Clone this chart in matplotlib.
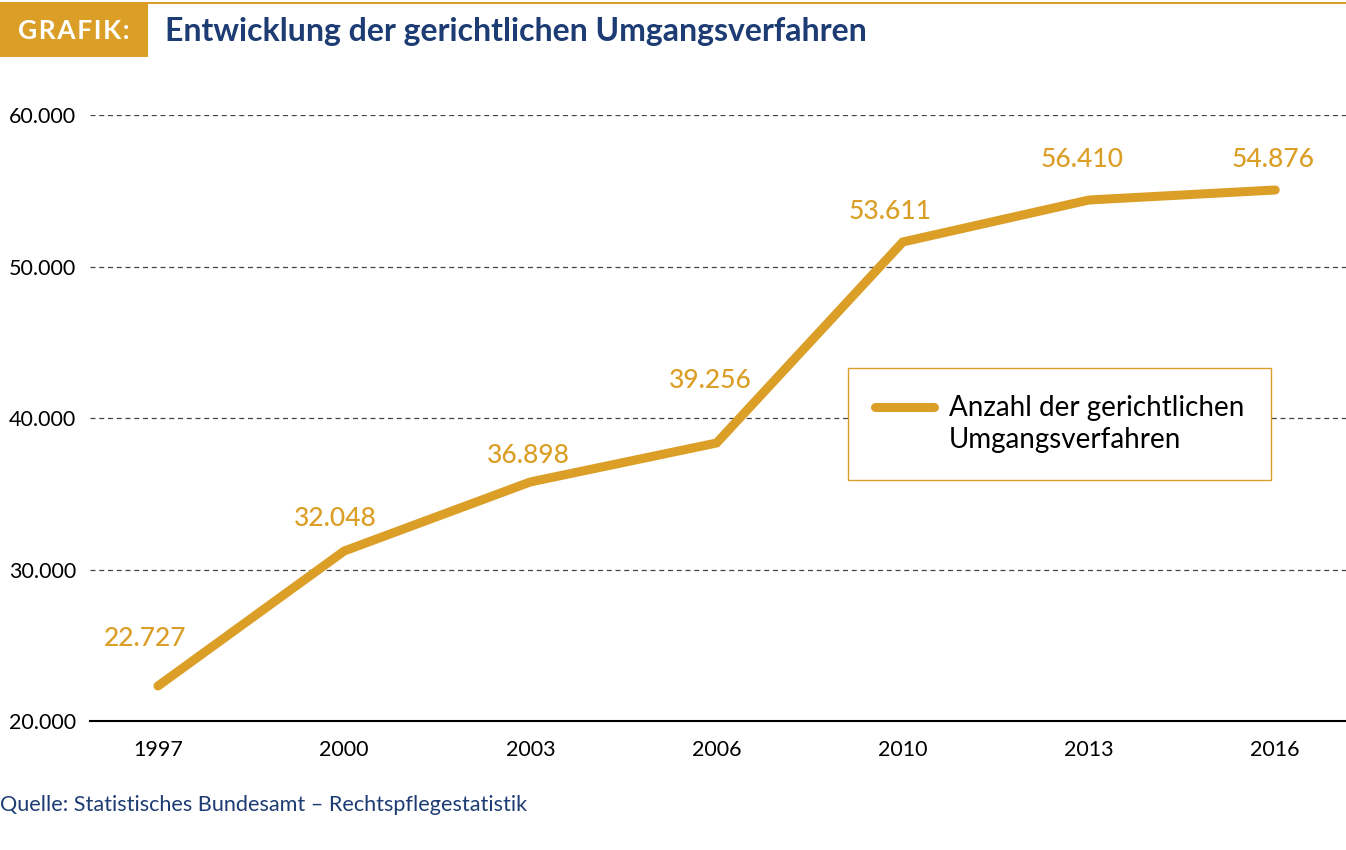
import numpy as np
import matplotlib.pyplot as plt
from matplotlib.patches import Rectangle
from matplotlib.lines import Line2D
from matplotlib.legend_handler import HandlerLine2D

years = ['1997', '2000', '2003', '2006', '2010', '2013', '2016']
# line positions as drawn in the source graphic
values = [22310, 31220, 35780, 38350, 51620, 54390, 55050]
# printed value labels
labels = ['22.727', '32.048', '36.898', '39.256', '53.611', '56.410', '54.876']
yticks = [20000, 30000, 40000, 50000, 60000]
ytick_labels = ['20.000', '30.000', '40.000', '50.000', '60.000']

gold = '#DB9F27'
navy = '#1D3C73'

plt.rcParams['font.family'] = ['Lato', 'DejaVu Sans']


class FirstLineHandler(HandlerLine2D):
    # put the legend line next to the first line of a two-line label
    def create_artists(self, legend, orig_handle, xdescent, ydescent, width,
                       height, fontsize, trans):
        arts = super().create_artists(legend, orig_handle, xdescent, ydescent,
                                      width, height, fontsize, trans)
        for a in arts:
            a.set_ydata(np.asarray(a.get_ydata()) + 0.65 * fontsize)
        return arts


fig = plt.figure(figsize=(13.46, 8.5), dpi=100)
ax = fig.add_axes([90 / 1346, 1 - 721 / 850, 1 - 90 / 1346, (721 - 115) / 850])

x = list(range(len(years)))
line, = ax.plot(x, values, color=gold, lw=6.5, solid_capstyle='round',
                solid_joinstyle='miter',
                label='Anzahl der gerichtlichen\nUmgangsverfahren', zorder=3)

# label offsets in pixels
offsets = [(-13, 48), (-9, 33), (-2, 26), (-6, 62), (-13, 30), (-7, 40), (-2, 30)]
for xi, v, lab, off in zip(x, values, labels, offsets):
    ax.annotate(lab, (xi, v), xytext=off, textcoords='offset pixels',
                ha='center', va='center', fontsize=19, fontweight='medium', color=gold)

ax.set_xlim(-0.365, 6.38)
ax.set_ylim(20000, 60000)
ax.set_xticks(x)
ax.set_xticklabels(years)
ax.set_yticks(yticks)
ax.set_yticklabels(ytick_labels)
ax.tick_params(axis='both', length=0, labelsize=15.5, colors='black')
ax.tick_params(axis='y', pad=10)
ax.tick_params(axis='x', pad=14)
for side in ['top', 'right', 'left']:
    ax.spines[side].set_visible(False)
ax.spines['bottom'].set_color('black')
ax.spines['bottom'].set_linewidth(1.5)
ax.yaxis.grid(True, linestyle=(0, (4, 3)), color='#444444', linewidth=0.9)
ax.set_axisbelow(True)

leg = ax.legend(loc='upper left', bbox_to_anchor=(0.6035, 0.5825), borderaxespad=0,
                fontsize=20, frameon=True, fancybox=False, handlelength=2.12,
                handletextpad=0.54, borderpad=0.97,
                handler_map={line: FirstLineHandler()})
leg.get_frame().set_edgecolor(gold)
leg.get_frame().set_linewidth(1.0)
leg.get_frame().set_alpha(1)
for t in leg.get_texts():
    t.set_linespacing(1.3)

# header
fig.add_artist(Line2D([0, 1], [1 - 2.5 / 850, 1 - 2.5 / 850], color=gold, lw=1.5,
                      transform=fig.transFigure))
fig.add_artist(Rectangle((0, 1 - 57 / 850), 148 / 1346, 53 / 850, color=gold,
                         transform=fig.transFigure, lw=0))
fig.text(74 / 1346, 1 - 31 / 850, '\u200a'.join('GRAFIK:'), ha='center',
         va='center', fontsize=19, fontweight='bold', color='white')
fig.text(165 / 1346, 1 - 31 / 850, 'Entwicklung der gerichtlichen Umgangsverfahren',
         ha='left', va='center', fontsize=23, fontweight='bold', color=navy)

fig.text(0, 1 - 805 / 850, 'Quelle: Statistisches Bundesamt \u2013 Rechtspflegestatistik',
         ha='left', va='center', fontsize=15.6, color=navy)

fig.savefig('out.png', dpi=100)
